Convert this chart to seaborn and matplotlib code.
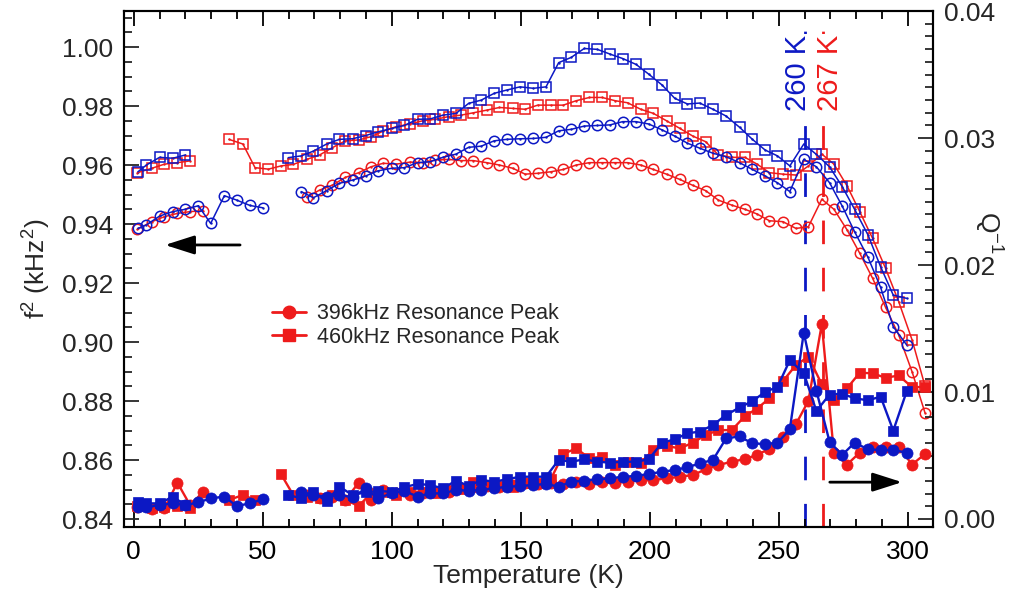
import numpy as np
import pandas as pd
import seaborn as sns
import matplotlib.pyplot as plt
from matplotlib.lines import Line2D
from matplotlib.ticker import MultipleLocator

nan = np.nan

# ---------------- data ----------------
# "blue" run (transition marked at 260 K)
T_blue = [1.6, 4.9, 10.0, 15.1, 20.0, 25.0, 29.8, 35.1, 39.9, 45.0, 50.0,
          59.9, 64.9, 69.6, 74.7, 79.7, 84.8, 89.9, 94.5, 100.0,
          104.8,
          110.0, 114.8, 119.8, 124.9, 129.8, 134.7, 139.7, 144.5, 149.7, 154.9,
          159.8, 164.7, 169.6, 174.6, 179.7, 184.6, 189.5, 194.7, 199.6, 204.8,
          209.7, 214.6, 219.4, 224.5, 229.6, 234.8, 239.8, 244.7, 249.5, 254.3,
          259.7, 264.6, 269.7, 274.6, 279.4, 284.6, 289.5, 294.4, 299.6]

blue_circ_f2 = [0.9385, 0.9397, 0.9427, 0.9442, 0.9450, 0.9462, 0.9402, 0.9496, 0.9481, 0.9463, 0.9455,
                nan, 0.9510, 0.9489, 0.9513, 0.9538, 0.9549, 0.9563, 0.9580, 0.9589,
                0.9591,
                0.9608, 0.9611, 0.9626, 0.9637, 0.9660, 0.9664, 0.9682, 0.9687, 0.9689, 0.9690,
                0.9694, 0.9716, 0.9721, 0.9732, 0.9734, 0.9736, 0.9747, 0.9747, 0.9739, 0.9719,
                0.9698, 0.9674, 0.9657, 0.9640, 0.9628, 0.9608, 0.9585, 0.9563, 0.9540, 0.9510,
                0.9619, 0.9594, 0.9540, 0.9461, 0.9374, 0.9287, 0.9185, 0.9052, 0.8990]

blue_sq_f2 = [0.9577, 0.9600, 0.9626, 0.9623, 0.9634, nan, nan, nan, nan, nan, nan,
              0.9625, 0.9631, 0.9647, 0.9671, 0.9687, 0.9689, 0.9700, 0.9712, 0.9724,
              0.9734,
              0.9755, 0.9756, 0.9769, 0.9775, 0.9809, 0.9820, 0.9843, 0.9854, 0.9865, 0.9860,
              0.9865, 0.9947, 0.9965, 0.9995, 0.9992, 0.9976, 0.9961, 0.9941, 0.9908, 0.9871,
              0.9826, 0.9807, 0.9810, 0.9789, 0.9766, 0.9728, 0.9687, 0.9651, 0.9631, 0.9597,
              0.9671, 0.9636, 0.9594, 0.9527, 0.9450, 0.9363, 0.9255, 0.9159, 0.9148]

blue_circ_q = [0.00097, 0.00092, 0.00110, 0.00123, 0.00110, 0.00130, 0.00163, 0.00176, 0.00102, 0.00123, 0.00155,
               nan, 0.00215, 0.00189, 0.00176, 0.00189, 0.00171, 0.00241, 0.00163, 0.00202,
               0.00222,
               0.00176, 0.00202, 0.00202, 0.00228, 0.00223, 0.00228, 0.00241, 0.00254, 0.00260, 0.00268,
               0.00276, 0.00254, 0.00294, 0.00302, 0.00312, 0.00320, 0.00333, 0.00339, 0.00354, 0.00372,
               0.00386, 0.00407, 0.00438, 0.00465, 0.00635, 0.00650, 0.00595, 0.00591, 0.00600, 0.00706,
               0.01467, 0.01010, 0.00609, 0.00504, 0.00601, 0.00549, 0.00543, 0.00543, 0.00522]

blue_sq_q = [0.00136, 0.00123, 0.00123, 0.00176, 0.00110, nan, nan, nan, nan, nan, nan,
             0.00189, 0.00163, 0.00211, 0.00140, 0.00254, 0.00189, 0.00210, 0.00220, 0.00215,
             0.00250,
             0.00276, 0.00268, 0.00241, 0.00302, 0.00260, 0.00307, 0.00294, 0.00312, 0.00333, 0.00333,
             0.00333, 0.00465, 0.00451, 0.00470, 0.00451, 0.00444, 0.00451, 0.00451, 0.00470, 0.00601,
             0.00627, 0.00675, 0.00688, 0.00740, 0.00819, 0.00878, 0.00928, 0.01000, 0.01040, 0.01250,
             0.01150, 0.00850, 0.00980, 0.00987, 0.00950, 0.00935, 0.00963, 0.00696, 0.01005]

# "red" run (transition marked at 267 K)
T_red = [1.4, 7.0, 11.9, 16.9, 21.8, 27.0,
         31.9, 36.9, 42.3, 47.0,
         52.2, 57.1, 61.8, 67.0, 72.0,
         77.0, 82.0, 87.2, 91.9, 96.7,
         101.7, 107.1,
         112.0, 116.9, 122.0, 126.8, 131.6, 136.8, 141.7, 146.9, 151.7, 156.6,
         161.6, 166.5, 171.5, 176.6, 181.5, 186.6, 191.4, 196.5, 201.4, 206.5,
         211.7, 216.7, 221.7, 226.6, 231.8, 236.9, 241.6, 246.4, 251.6, 256.7,
         261.5, 266.7, 271.4, 276.5, 281.4, 286.4, 291.4, 296.5, 301.7, 306.7]

red_circ_f2 = [0.9382, 0.9408, 0.9425, 0.9436, 0.9442, 0.9445,
               nan, nan, nan, nan,
               nan, nan, nan, 0.9491, 0.9515,
               0.9532, 0.9558, 0.9574, 0.9594, 0.9606,
               0.9603, 0.9610,
               0.9608, 0.9617, 0.9619, 0.9615, 0.9615, 0.9608, 0.9600, 0.9589, 0.9569, 0.9572,
               0.9577, 0.9585, 0.9600, 0.9608, 0.9608, 0.9608, 0.9608, 0.9600, 0.9585, 0.9569,
               0.9551, 0.9531, 0.9513, 0.9481, 0.9464, 0.9450, 0.9434, 0.9411, 0.9408, 0.9385,
               0.9391, 0.9484, 0.9450, 0.9380, 0.9301, 0.9216, 0.9118, 0.9024, 0.8899, 0.8760]

red_sq_f2 = [0.9574, 0.9589, 0.9603, 0.9608, 0.9614, nan,
             nan, 0.9687, 0.9671, 0.9591,
             0.9586, 0.9597, 0.9602, 0.9619, 0.9634,
             0.9659, 0.9682, 0.9685, 0.9696, 0.9715,
             0.9730, 0.9739,
             0.9750, 0.9755, 0.9764, 0.9769, 0.9777, 0.9786, 0.9795, 0.9792, 0.9789, 0.9803,
             0.9803, 0.9803, 0.9818, 0.9829, 0.9829, 0.9818, 0.9811, 0.9789, 0.9775, 0.9750,
             0.9724, 0.9698, 0.9679, 0.9634, 0.9626, 0.9626, 0.9603, 0.9574, 0.9569, 0.9566,
             0.9597, 0.9637, 0.9603, 0.9529, 0.9442, 0.9351, 0.9250, 0.9137, 0.9007, 0.8851]

red_circ_q = [0.00092, 0.00076, 0.00085, 0.00286, 0.00110, 0.00215,
              nan, nan, nan, nan,
              nan, nan, nan, 0.00189, 0.00163,
              0.00176, 0.00150, 0.00286, 0.00150, 0.00228,
              0.00202, 0.00189,
              0.00207, 0.00215, 0.00215, 0.00241, 0.00254, 0.00260, 0.00254, 0.00268, 0.00281, 0.00276,
              0.00281, 0.00276, 0.00294, 0.00276, 0.00294, 0.00286, 0.00294, 0.00307, 0.00307, 0.00320,
              0.00333, 0.00346, 0.00391, 0.00425, 0.00451, 0.00472, 0.00505, 0.00553, 0.00648, 0.00748,
              0.00930, 0.01535, 0.00517, 0.00429, 0.00523, 0.00570, 0.00567, 0.00569, 0.00429, 0.00512]

red_sq_q = [0.00105, 0.00090, 0.00092, 0.00105, 0.00090, nan,
            nan, 0.00150, 0.00189, 0.00150,
            nan, 0.00352, 0.00189, 0.00176, 0.00163,
            0.00189, 0.00150, 0.00102, 0.00202, 0.00210,
            0.00189, 0.00215,
            0.00215, 0.00207, 0.00228, 0.00234, 0.00294, 0.00268, 0.00260, 0.00249, 0.00281, 0.00281,
            0.00312, 0.00512, 0.00556, 0.00478, 0.00491, 0.00425, 0.00451, 0.00444, 0.00543, 0.00575,
            0.00556, 0.00601, 0.00661, 0.00700, 0.00700, 0.00810, 0.00870, 0.00950, 0.01085, 0.01213,
            0.01278, 0.01060, 0.00937, 0.01030, 0.01152, 0.01147, 0.01112, 0.01130, 0.01038, 0.01040]

T_marks = [260, 267]
mark_labels = ["260 K", "267 K"]
legend_labels = ["396kHz Resonance Peak", "460kHz Resonance Peak"]

# ---------------- styling ----------------
BLUE = "#0c18c4"
RED = "#ee1b1b"

sns.set_theme(style="ticks")
plt.rcParams["font.family"] = ["Liberation Sans", "DejaVu Sans"]
plt.rcParams["mathtext.fontset"] = "custom"
plt.rcParams["mathtext.rm"] = "Liberation Sans"
plt.rcParams["mathtext.it"] = "Liberation Sans:italic"
plt.rcParams["lines.scale_dashes"] = False

FS = 19


def frame(T, v):
    df = pd.DataFrame({"T": T, "v": v})
    df["seg"] = df["v"].isna().cumsum()
    return df.dropna()


fig = plt.figure(figsize=(10.29, 5.99), dpi=100)
ax = fig.add_axes([0.1205, 0.1202, 0.7862, 0.8614])
ax2 = ax.twinx()


def open_series(axis, T, v, color, marker):
    df = frame(T, v)
    sns.lineplot(data=df, x="T", y="v", units="seg", estimator=None, ax=axis,
                 color=color, lw=1.1, marker=marker, markersize=7.5,
                 markerfacecolor="none", markeredgecolor=color, markeredgewidth=1.1,
                 legend=False)
    sns.scatterplot(data=df, x="T", y="v", ax=axis, color=color, s=3,
                    linewidth=0, legend=False)


def filled_series(axis, T, v, color, marker, ms):
    df = frame(T, v)
    sns.lineplot(data=df, x="T", y="v", units="seg", estimator=None, ax=axis,
                 color=color, lw=1.7, marker=marker, markersize=ms,
                 markerfacecolor=color, markeredgecolor=color, markeredgewidth=0.5,
                 legend=False)


# f^2 (left axis), open markers
open_series(ax, T_red, red_sq_f2, RED, "s")
open_series(ax, T_blue, blue_sq_f2, BLUE, "s")
open_series(ax, T_red, red_circ_f2, RED, "o")
open_series(ax, T_blue, blue_circ_f2, BLUE, "o")

# Q^-1 (right axis), filled markers
filled_series(ax2, T_red, red_circ_q, RED, "o", 8)
filled_series(ax2, T_red, red_sq_q, RED, "s", 7.5)
filled_series(ax2, T_blue, blue_circ_q, BLUE, "o", 8)
filled_series(ax2, T_blue, blue_sq_q, BLUE, "s", 7.5)

# transition lines
for Tm, c in zip(T_marks, [BLUE, RED]):
    ax.axvline(Tm, color=c, lw=2, dashes=(17, 17), zorder=0.5)

for Tx, lab, c in zip([257.3, 270.0], mark_labels, [BLUE, RED]):
    ax2.text(Tx, 0.88, lab, transform=ax2.get_xaxis_transform(),
             rotation=90, ha="center", va="center", color=c, fontsize=21,
             bbox=dict(facecolor="white", edgecolor="none", pad=0.5), zorder=10)

# arrows
arrow_kw = dict(arrowstyle="-|>,head_length=1.0,head_width=0.32",
                color="black", lw=2, mutation_scale=18, shrinkA=0, shrinkB=0)
ax.annotate("", xy=(12.1, 0.9329), xytext=(41.2, 0.9329), arrowprops=arrow_kw)
ax.annotate("", xy=(297.8, 0.8525), xytext=(269.8, 0.8525), arrowprops=arrow_kw)

# axes
ax.set_xlim(-3.8, 309.8)
ax.set_ylim(0.8373, 1.0122)
ax2.set_ylim(-0.00063, 0.04)

ax.xaxis.set_major_locator(MultipleLocator(50))
ax.xaxis.set_minor_locator(MultipleLocator(10))
ax.yaxis.set_major_locator(MultipleLocator(0.02))
ax.yaxis.set_minor_locator(MultipleLocator(0.005))
ax2.yaxis.set_major_locator(MultipleLocator(0.01))
ax2.yaxis.set_minor_locator(MultipleLocator(0.001))
ax.yaxis.set_major_formatter(plt.FormatStrFormatter("%.2f"))
ax2.yaxis.set_major_formatter(plt.FormatStrFormatter("%.2f"))

ax.tick_params(axis="x", which="both", direction="in", top=True, bottom=True,
               labelsize=FS, pad=9, width=1.3, colors="black")
ax.tick_params(axis="y", which="both", direction="in", left=True, right=False,
               labelsize=FS, pad=8, width=1.3)
ax2.tick_params(axis="y", which="both", direction="in", right=True,
                labelsize=FS, pad=8, width=1.3)
for a in (ax, ax2):
    a.tick_params(which="major", length=11)
    a.tick_params(which="minor", length=6)
    for s in a.spines.values():
        s.set_linewidth(1.5)
        s.set_color("black")

ax.set_xlabel("Temperature (K)", fontsize=FS, labelpad=0)
ax.set_ylabel(r"f$^{\mathrm{2}}$ (kHz$^{\mathrm{2}}$)", fontsize=FS, labelpad=6)
ax2.set_ylabel(r"Q$^{\mathrm{-1}}$", fontsize=FS, rotation=270, va="center")
ax2.yaxis.set_label_coords(1.068, 0.57)

handles = [Line2D([], [], color=RED, lw=2, marker="o", markersize=9),
           Line2D([], [], color=RED, lw=2, marker="s", markersize=8)]
ax2.legend(handles, legend_labels, loc="upper left", bbox_to_anchor=(0.172, 0.45),
           frameon=False, fontsize=15.5, handlelength=1.6, handletextpad=0.5,
           labelspacing=0.1, borderaxespad=0)

fig.savefig("out.png", dpi=100)
